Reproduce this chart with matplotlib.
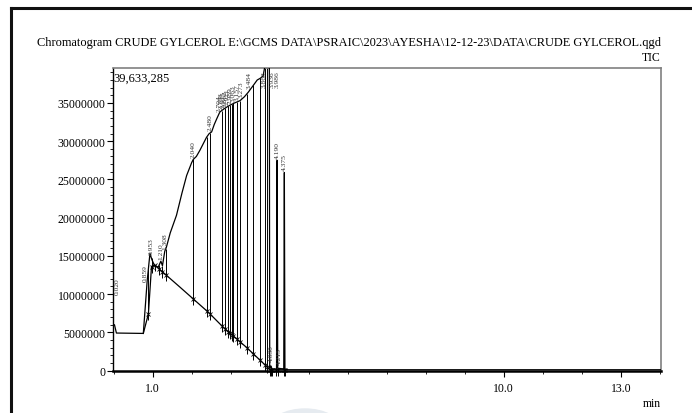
import numpy as np
import matplotlib
matplotlib.use("Agg")
import matplotlib.pyplot as plt
from matplotlib.lines import Line2D
from matplotlib.patches import Ellipse
from matplotlib.ticker import FixedLocator, MultipleLocator, FuncFormatter

# ---------------- data (intensity in millions of counts) ----------------
tic_time = [-0.03, 0.02, 0.07, 0.76, 0.86, 0.93, 0.98, 1.04, 1.14, 1.21, 1.25,
            1.31, 1.35, 1.45, 1.61, 1.75, 1.87, 2.00, 2.04, 2.12, 2.21, 2.38,
            2.45, 2.51, 2.58, 2.64, 2.72, 2.77, 2.85, 2.98, 3.10, 3.24, 3.35,
            3.45, 3.58, 3.68, 3.75, 3.83, 3.87, 3.99, 4.00, 4.03, 4.06, 4.175,
            4.19, 4.205, 4.36, 4.375, 4.39, 4.45, 14.03]
tic_int = [5.7, 6.0, 4.9, 4.85, 11.8, 15.3, 14.5, 13.8, 13.5, 14.3, 13.7,
           15.6, 16.1, 18.0, 20.3, 23.2, 25.5, 27.2, 27.6, 28.0, 28.8, 30.5,
           31.0, 31.2, 32.2, 32.9, 33.8, 34.0, 34.3, 34.7, 35.0, 35.3, 35.8,
           36.4, 37.3, 38.0, 38.2, 38.5, 39.63, 39.63, 0.3, 0.6, 0.2, 0.2,
           27.5, 0.3, 0.2, 25.9, 0.2, 0.1, 0.1]

baseline_time = [0.76, 0.89, 0.97, 1.05, 1.70, 2.43, 2.81, 3.41, 3.97, 4.00, 4.45]
baseline_int = [4.85, 7.4, 13.6, 13.8, 10.9, 7.6, 5.65, 3.0, 0.3, 0.1, 0.1]

boundary_time = [0.89, 0.97, 1.05, 1.17, 1.25, 1.33, 2.04, 2.38, 2.47, 2.77,
                 2.85, 2.94, 2.98, 3.03, 3.07, 3.15, 3.24, 3.41, 3.58, 3.75,
                 3.88, 3.94, 4.00, 4.03, 4.06, 4.16, 4.21, 4.36, 4.39]

peak_rt = [0.020, 0.859, 0.953, 1.210, 1.308, 2.040, 2.480, 2.704, 2.768,
           2.815, 2.862, 2.921, 2.989, 3.063, 3.157, 3.273, 3.484, 3.868,
           3.936, 3.986, 4.030, 4.190, 4.215, 4.375]
peak_label = ["%.3f" % t for t in peak_rt]

y_max = 39633285
y_ticks = [0, 5000000, 10000000, 15000000, 20000000, 25000000, 30000000, 35000000]
x_major = [1.0, 10.0, 13.0]
x_major_labels = ["1.0", "10.0", "13.0"]
title = r"Chromatogram CRUDE GYLCEROL E:\GCMS DATA\PSRAIC\2023\AYESHA\12-12-23\DATA\CRUDE GYLCEROL.qgd"

# ---------------- style ----------------
SERIF = ["Liberation Serif", "DejaVu Serif"]
label_pad = {0.020: 4.0, 0.859: 0.0, 4.030: 0.6, 4.215: 0.6}
label_shift = {0.020: 0.08, 0.859: -0.05, 3.936: 0.14, 3.986: 0.20, 4.215: 0.03}

W, H = 692, 414
fig = plt.figure(figsize=(W / 100, H / 100), dpi=100)
fig.patch.set_facecolor("white")

x0, x1, ytop, ybot = 112.5, 661, 68.5, 371.5
ax = fig.add_axes([x0 / W, 1 - ybot / H, (x1 - x0) / W, (ybot - ytop) / H])

t = np.array(tic_time)
y = np.array(tic_int) * 1e6
bt = np.array(baseline_time)
by = np.array(baseline_int) * 1e6

ax.plot(t, y, color="black", lw=0.9, zorder=3)
ax.plot(bt, by, color="black", lw=0.9, zorder=3)

bnd = np.array(boundary_time)
top = np.interp(bnd, t, y)
base = np.interp(bnd, bt, by, left=0, right=0.1e6)
ax.vlines(bnd, base - 0.8e6, top, color="black", lw=0.7, zorder=2, clip_on=False)
ax.plot(bnd, base, "x", color="black", ms=2.5, mew=0.6, zorder=4, clip_on=False)

for rt, lab in zip(peak_rt, peak_label):
    hy = np.interp(rt, t, y) + label_pad.get(rt, 0.3) * 1e6
    hy = min(hy, y_max - 2.5e6)
    ax.text(rt + label_shift.get(rt, 0.0), hy, lab, rotation=90, ha="center",
            va="bottom", fontsize=5.4, family=SERIF, color="#333333", zorder=5)

ax.set_xlim(-0.03, 14.03)
ax.set_ylim(0, y_max)

ax.yaxis.set_major_locator(FixedLocator(y_ticks))
ax.yaxis.set_minor_locator(MultipleLocator(1000000))
ax.yaxis.set_major_formatter(FuncFormatter(lambda v, p: "%d" % v))
ax.xaxis.set_major_locator(FixedLocator(x_major))
ax.xaxis.set_minor_locator(MultipleLocator(1.0))
ax.set_xticklabels(x_major_labels)

ax.tick_params(axis="y", which="major", direction="out", length=4, width=0.8,
               labelsize=8.5, pad=1)
ax.tick_params(axis="y", which="minor", direction="out", length=2, width=0.6)
ax.tick_params(axis="x", which="major", direction="out", length=4, width=0.8,
               labelsize=8.5, pad=4)
ax.tick_params(axis="x", which="minor", direction="out", length=2, width=0.6)
for lab in ax.get_xticklabels() + ax.get_yticklabels():
    lab.set_family(SERIF)

ax.spines["left"].set_color("black")
ax.spines["left"].set_linewidth(1.0)
ax.spines["bottom"].set_color("black")
ax.spines["bottom"].set_linewidth(1.8)
for s in ("top", "right"):
    ax.spines[s].set_color("#808080")
    ax.spines[s].set_linewidth(1.2)

ax.text(0.002, 0.985, "{:,}".format(y_max), transform=ax.transAxes, ha="left",
        va="top", fontsize=9, family=SERIF)

fig.text(x1 / W, 1 - 43 / H, title, ha="right", va="center", fontsize=8.9,
         family=SERIF)
fig.text(x1 / W, 1 - 58 / H, "TIC", ha="right", va="center", fontsize=8.5,
         family=SERIF)
fig.text(x1 / W, 1 - 404 / H, "min", ha="right", va="center", fontsize=8.5,
         family=SERIF)

# outer frame
fig.add_artist(Line2D([10.5 / W, 10.5 / W], [0, 1 - 9 / H], color="#111111", lw=2.2))
fig.add_artist(Line2D([10.5 / W, 1], [1 - 9 / H, 1 - 9 / H], color="#111111", lw=2.2))
# faint watermark
fig.add_artist(Ellipse((305 / W, 1 - 430 / H), 72 / W, 40 / H, color="#e6ebf0",
                       transform=fig.transFigure, zorder=0))

fig.savefig("out.png", dpi=100)
